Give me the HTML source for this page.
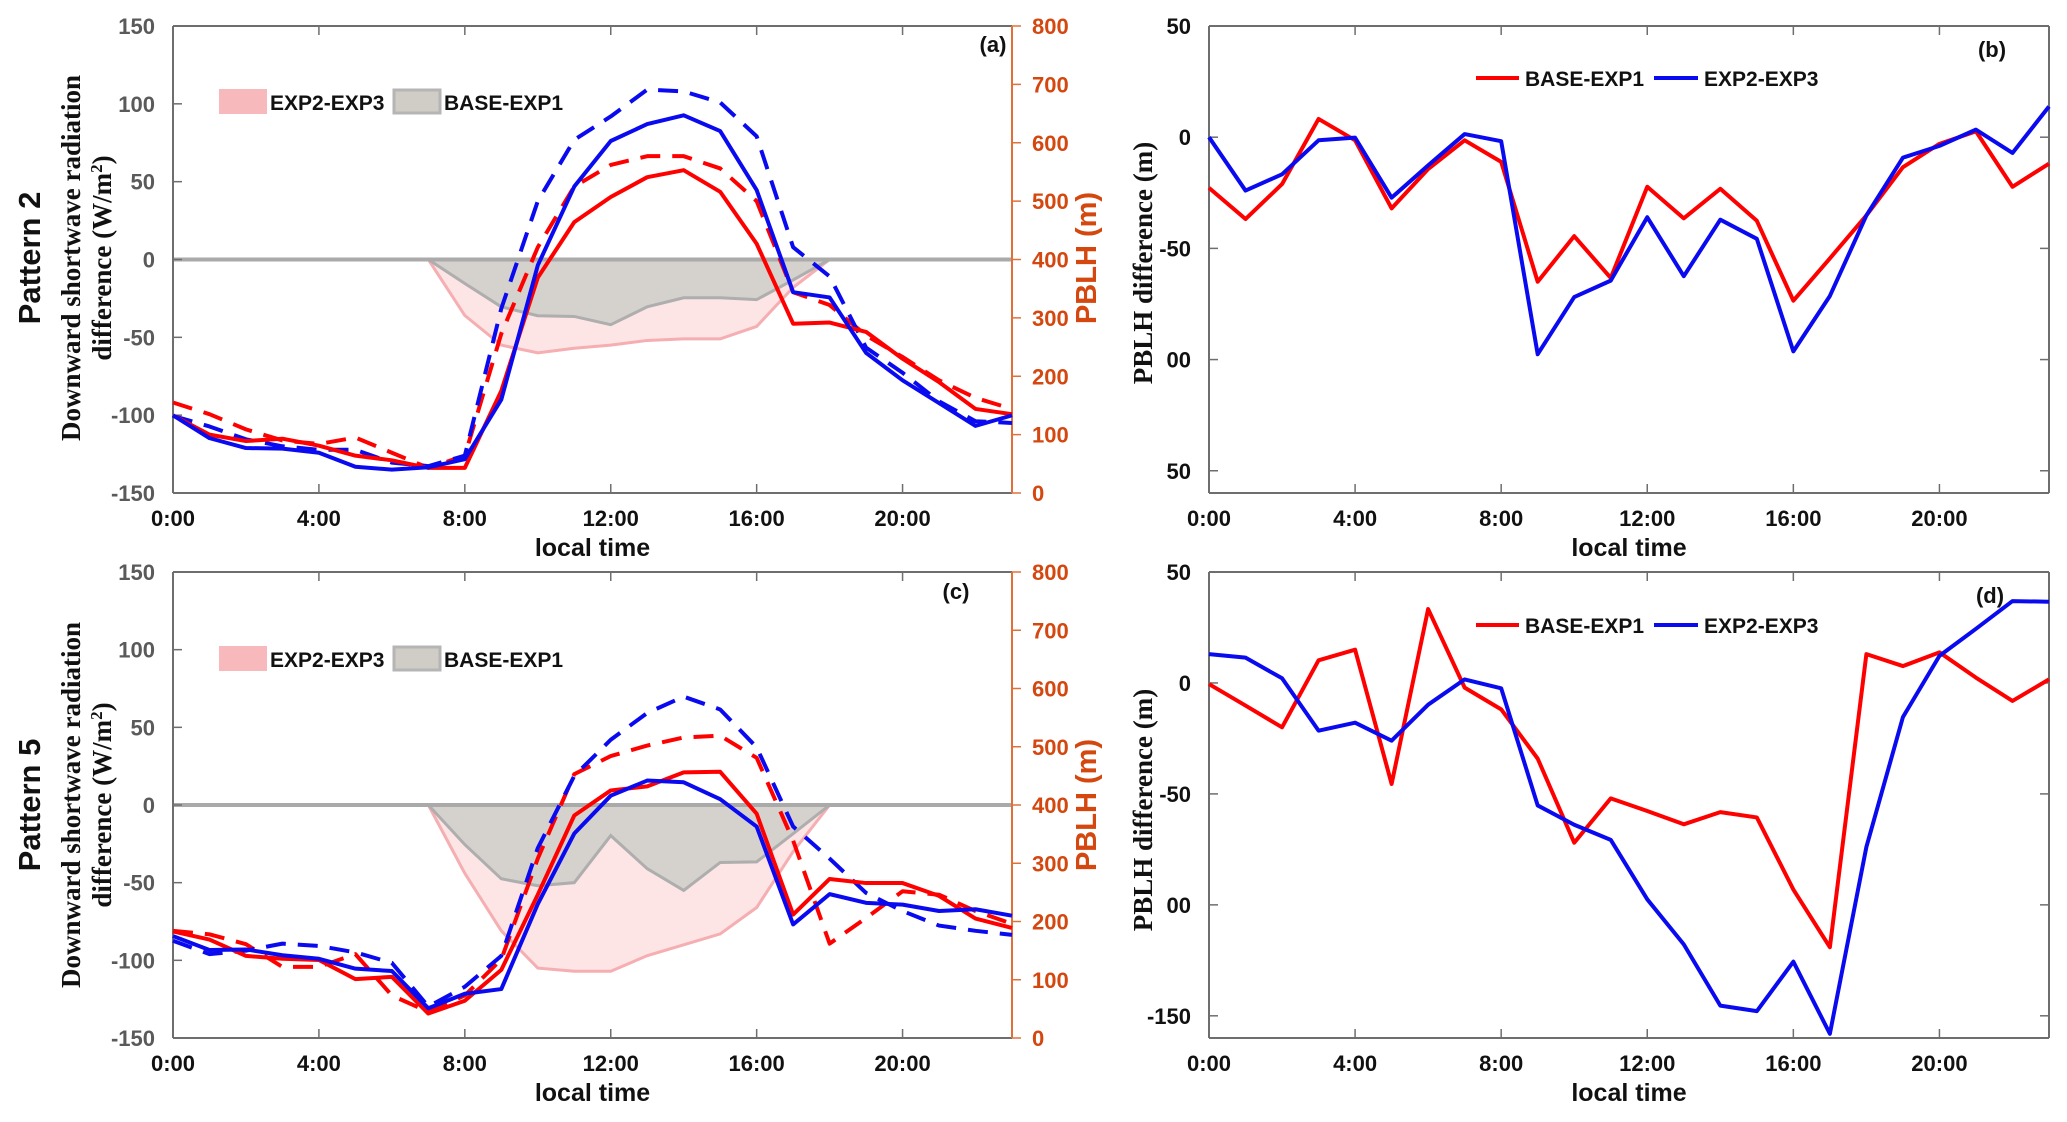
<!DOCTYPE html>
<html><head><meta charset="utf-8">
<style>
html,body{margin:0;padding:0;background:#fff;}
svg{display:block;}
.tk{font-family:"Liberation Sans",Arial,sans-serif;font-weight:bold;font-size:22px;}
.sf{font-family:"Liberation Serif","Times New Roman",serif;font-weight:bold;font-size:27px;}
</style></head>
<body>
<svg id="fig" width="2067" height="1122" viewBox="0 0 2067 1122" xmlns="http://www.w3.org/2000/svg"></svg>
<script>
// ---- data ----
const hours = [0,1,2,3,4,5,6,7,8,9,10,11,12,13,14,15,16,17,18,19,20,21,22,23];
const xTickLabels = ["0:00","4:00","8:00","12:00","16:00","20:00"];
const xTickHours = [0,4,8,12,16,20];
// Panel (a) Pattern 2, PBLH lines (right axis, m)
const aRedSolid  = [133,100,89,93,81,64,56,43,43,175,369,464,507,541,553,516,427,290,292,276,230,190,144,135];
const aBlueSolid = [133,94,77,76,69,45,40,44,58,160,390,525,603,632,647,620,519,344,335,240,193,154,115,133];
const aRedDash   = [155,135,109,90,84,95,69,43,64,273,421,525,562,577,577,556,500,344,322,270,233,193,163,144];
const aBlueDash  = [132,114,92,80,74,74,52,46,64,316,500,605,645,691,688,669,611,421,371,249,206,157,123,120];
// Panel (a) radiation differences (left axis, W/m2), hours 7..18
const fillHours = [7,8,9,10,11,12,13,14,15,16,17,18];
const aGrey = [0,-15.4,-30.4,-36.1,-36.6,-41.9,-30.4,-24.6,-24.6,-25.8,-13.1,0];
const aPink = [0,-36,-55,-60,-57,-55,-52,-51,-51,-43,-18,0];
// Panel (c) Pattern 5
const cRedSolid  = [183,169,141,136,134,101,105,42,64,117,246,382,425,432,456,457,385,212,273,266,266,244,205,189];
const cBlueSolid = [175,151,152,142,136,119,115,51,76,84,230,351,416,442,439,410,363,195,247,232,229,218,221,210];
const cRedDash   = [184,178,161,122,122,144,73,45,73,135,308,453,484,502,516,519,481,339,162,206,252,246,218,196];
const cBlueDash  = [167,144,150,162,158,147,129,54,88,141,326,450,512,558,586,564,499,363,308,249,218,193,184,177];
const cGrey = [0,-25.5,-47.5,-52,-50,-19.7,-41,-55,-37,-36.6,-18.5,0];
const cPink = [0,-44,-81,-105,-107,-107,-97,-90,-83,-66,-30,0];
// Panel (b) PBLH difference
const bRed  = [-22.8,-36.8,-21.1,8.2,-1.4,-32,-14.3,-1.4,-11.1,-65,-44.5,-63.3,-22.3,-36.5,-23.2,-37.6,-73.5,-54.5,-35.2,-13.5,-3,2.6,-22.3,-11.9];
const bBlue = [0,-24,-16.7,-1.4,-0.2,-27.2,-12.7,1.4,-1.8,-97.6,-71.9,-64.5,-36,-62.5,-37.1,-45.7,-96.3,-71.4,-35.2,-9.2,-3.9,3.4,-7.1,13.8];
// Panel (d)
const dRed  = [-0.5,-10.2,-20,10.2,15,-45.5,33.3,-2.1,-11.9,-34.1,-72,-52,-57.7,-63.7,-58.2,-60.6,-93.1,-119.1,13,7.6,13.8,2.4,-8.1,1.6];
const dBlue = [13,11.4,2.1,-21.5,-17.9,-26,-9.8,1.6,-2.4,-55.2,-63.9,-70.7,-97.5,-117.8,-145.4,-147.9,-125.6,-158.1,-73.9,-15.4,12.2,24.4,36.9,36.6];
const leftTicks = [150,100,50,0,-50,-100,-150];
const rightTicks = [800,700,600,500,400,300,200,100,0];
const diffTicks = [50,0,-50,-100,-150];
const bTickLabels = ["50","0","-50","00","50"];
const dTickLabels = ["50","0","-50","00","-150"];

const NS="http://www.w3.org/2000/svg";
const svg=document.getElementById('fig');
function mk(tag,attrs,parent,txt){const e=document.createElementNS(NS,tag);for(const k in attrs){
    if(k==='font-size'){e.style.fontSize=attrs[k]+'px';}else e.setAttribute(k,attrs[k]);}
  if(txt!==undefined)e.textContent=txt;(parent||svg).appendChild(e);return e;}

function panel(P){
  const g=mk('g',{});  
  const X=h=>P.x0+(P.x1-P.x0)*h/23;
  const Y=v=>P.y0+(P.y1-P.y0)*(P.top-v)/(P.top-P.bot);
  const YR=v=>P.y0+(P.y1-P.y0)*(800-v)/800;
  if(P.pink){
    const pts=fillHours.map((h,i)=>X(h)+','+Y(P.pink[i])).join(' ');
    const e=mk('polygon',{points:pts,fill:'#fde4e5',stroke:'#f5aeb1','stroke-width':3},g);
    
    
    const pts2=fillHours.map((h,i)=>X(h)+','+Y(P.grey[i])).join(' ');
    const e2=mk('polygon',{points:pts2,fill:'#d5d1cd',stroke:'#aeaeae','stroke-width':3},g);
    
    
    const z=mk('line',{x1:P.x0,x2:P.x1,y1:Y(0),y2:Y(0),stroke:'#aaaaaa','stroke-width':4},g);
    
    
  }
  const ax='#6e6e6e';
  mk('line',{x1:P.x0,x2:P.x1,y1:P.y0,y2:P.y0,stroke:ax,'stroke-width':2},g);
  mk('line',{x1:P.x0,x2:P.x1,y1:P.y1,y2:P.y1,stroke:ax,'stroke-width':2},g);
  mk('line',{x1:P.x0,x2:P.x0,y1:P.y0,y2:P.y1,stroke:ax,'stroke-width':2},g);
  mk('line',{x1:P.x1,x2:P.x1,y1:P.y0,y2:P.y1,stroke:P.right?'#e0703a':ax,'stroke-width':2},g);
  xTickHours.forEach((h,i)=>{
    mk('line',{x1:X(h),x2:X(h),y1:P.y1,y2:P.y1-9,stroke:ax,'stroke-width':1.5},g);
    mk('line',{x1:X(h),x2:X(h),y1:P.y0,y2:P.y0+9,stroke:ax,'stroke-width':1.5},g);
    const t=mk('text',{x:X(h),y:P.y1+33,'text-anchor':'middle',class:'tk',fill:'#111'},g,xTickLabels[i]);
    
    
  });
  const xt=mk('text',{x:(P.x0+P.x1)/2,y:P.y1+63,'text-anchor':'middle',class:'tk','font-size':'25',fill:'#111'},g,'local time');
  
  
  P.yTicks.forEach((v,i)=>{
    mk('line',{x1:P.x0,x2:P.x0+9,y1:Y(v),y2:Y(v),stroke:ax,'stroke-width':1.5},g);
    if(!P.right) mk('line',{x1:P.x1,x2:P.x1-9,y1:Y(v),y2:Y(v),stroke:ax,'stroke-width':1.5},g);
    const t=mk('text',{x:P.x0-18,y:Y(v)+8,'text-anchor':'end',class:'tk',fill:P.right?'#5a5a5a':'#111'},g,P.yLabels[i]);
    
    
  });
  if(P.right){
    rightTicks.forEach(v=>{
      mk('line',{x1:P.x1,x2:P.x1+9,y1:YR(v),y2:YR(v),stroke:'#e0703a','stroke-width':1.5},g);
      const t=mk('text',{x:P.x1+20,y:YR(v)+8,class:'tk',fill:'#d4470f'},g,String(v));
      
      
    });
  }
  P.lines.forEach(L=>{
    const f=P.right?YR:Y;
    const pts=hours.map((h,i)=>X(h)+','+f(L.d[i])).join(' ');
    const a={points:pts,fill:'none',stroke:L.c,'stroke-width':4,'stroke-linejoin':'round'};
    if(L.dash)a['stroke-dasharray']='20 12';
    const e=mk('polyline',a,g);
    
    
  });
  const pl=mk('text',{x:P.labX,y:P.labY,'text-anchor':'middle',class:'tk','font-size':'22',fill:'#111'},g,P.lab);
  
  
  return g;
}

const RED='#ff0000',BLUE='#0a0af0';
panel({name:'panel-a',x0:173,x1:1012,y0:26,y1:493,top:150,bot:-150,right:true,yTicks:leftTicks,yLabels:leftTicks.map(String),
  pink:aPink,grey:aGrey,lab:'(a)',labX:993,labY:52,
  lines:[{d:aRedDash,c:RED,dash:1,n:'line-red-dashed'},{d:aBlueDash,c:BLUE,dash:1,n:'line-blue-dashed'},{d:aRedSolid,c:RED,n:'line-red-solid'},{d:aBlueSolid,c:BLUE,n:'line-blue-solid'}]});
panel({name:'panel-c',x0:173,x1:1012,y0:572,y1:1038,top:150,bot:-150,right:true,yTicks:leftTicks,yLabels:leftTicks.map(String),
  pink:cPink,grey:cGrey,lab:'(c)',labX:956,labY:599,
  lines:[{d:cRedDash,c:RED,dash:1,n:'line-red-dashed'},{d:cBlueDash,c:BLUE,dash:1,n:'line-blue-dashed'},{d:cRedSolid,c:RED,n:'line-red-solid'},{d:cBlueSolid,c:BLUE,n:'line-blue-solid'}]});
panel({name:'panel-b',x0:1209,x1:2049,y0:26,y1:493,top:50,bot:-160,yTicks:diffTicks,yLabels:bTickLabels,
  lab:'(b)',labX:1992,labY:57,
  lines:[{d:bRed,c:RED,n:'line-base-exp1'},{d:bBlue,c:BLUE,n:'line-exp2-exp3'}]});
panel({name:'panel-d',x0:1209,x1:2049,y0:572,y1:1038,top:50,bot:-160,yTicks:diffTicks,yLabels:dTickLabels,
  lab:'(d)',labX:1990,labY:603,
  lines:[{d:dRed,c:RED,n:'line-base-exp1'},{d:dBlue,c:BLUE,n:'line-exp2-exp3'}]});

function rot(txt,x,y,cls,extra,name){const t=mk('text',Object.assign({x:0,y:0,transform:`translate(${x},${y}) rotate(-90)`,'text-anchor':'middle',class:cls},extra||{}),svg,txt);
  
  return t;}
[[258,'Pattern 2'],[805,'Pattern 5']].forEach(([cy,lab],k)=>{
  rot(lab,40,cy,'tk',{'font-size':'31',fill:'#111'},'pattern-label');
  rot('Downward shortwave radiation',80,cy,'sf',{fill:'#111'},'y-axis-title-left');
  const t=rot('',111,cy,'sf',{fill:'#111'},'y-axis-title-left-2');
  t.innerHTML='difference (W/m<tspan baseline-shift="super" font-size="17">2</tspan>)';
  rot('PBLH (m)',1096,cy,'tk',{'font-size':'29',fill:'#d4470f'},'y-axis-title-right');
  rot('PBLH difference (m)',1152,cy+5,'sf',{fill:'#111'},'y-axis-title-diff');
});

[[89,'legend-a'],[646,'legend-c']].forEach(([y,n])=>{
  const g=mk('g',{});  
  mk('rect',{x:219,y:y,width:48,height:25,fill:'#f7b9bc'},g);
  mk('text',{x:270,y:y+21,class:'tk','font-size':'21',fill:'#111'},g,'EXP2-EXP3');
  mk('rect',{x:394,y:y+1,width:46,height:23,fill:'#cfcdc6',stroke:'#b5b5b5','stroke-width':3},g);
  mk('text',{x:444,y:y+21,class:'tk','font-size':'21',fill:'#111'},g,'BASE-EXP1');
});
[[78,'legend-b'],[625,'legend-d']].forEach(([y,n])=>{
  const g=mk('g',{});  
  mk('line',{x1:1476,x2:1519,y1:y,y2:y,stroke:RED,'stroke-width':4},g);
  mk('text',{x:1525,y:y+8,class:'tk','font-size':'21',fill:'#111'},g,'BASE-EXP1');
  mk('line',{x1:1654,x2:1698,y1:y,y2:y,stroke:BLUE,'stroke-width':4},g);
  mk('text',{x:1704,y:y+8,class:'tk','font-size':'21',fill:'#111'},g,'EXP2-EXP3');
});
</script>
</body></html>
